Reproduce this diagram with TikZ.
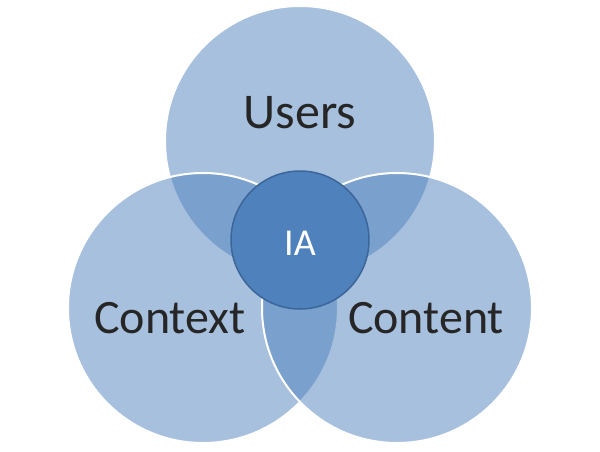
\documentclass[tikz,border=0pt]{standalone}
\usepackage{fontspec}
\setmainfont{Carlito}
\definecolor{ablue}{HTML}{4F81BD}
\definecolor{aborder}{HTML}{3B6699}
\definecolor{txt}{HTML}{262626}
\tikzset{
  venn/.style={circle, minimum size=270pt, inner sep=0pt, fill=ablue, fill opacity=0.5, draw=white, draw opacity=1, line width=2pt},
  core/.style={circle, minimum size=138pt, inner sep=0pt, fill=ablue, draw=aborder, line width=1.5pt},
  biglabel/.style={font=\fontsize{50}{60}\selectfont, text=txt, anchor=base},
  smalllabel/.style={font=\fontsize{38}{46}\selectfont, text=white, anchor=base}
}
\begin{document}
\begin{tikzpicture}[x=1pt,y=-1pt]
\useasboundingbox (0,0) rectangle (600,451);
\node[venn] (users) at (300,141) {};
\node[venn] (context) at (203,308) {};
\node[venn] (content) at (397,308) {};
\node[core] (ia) at (300,240) {};
\node[biglabel] (tusers) at (300,128) {Users};
\node[biglabel, font=\fontsize{48}{58}\selectfont] (tcontext) at (170,333) {Context};
\node[biglabel, font=\fontsize{48}{58}\selectfont] (tcontent) at (426,333) {Content};
\node[smalllabel] (tia) at (300,255) {IA};
\end{tikzpicture}
\end{document}
